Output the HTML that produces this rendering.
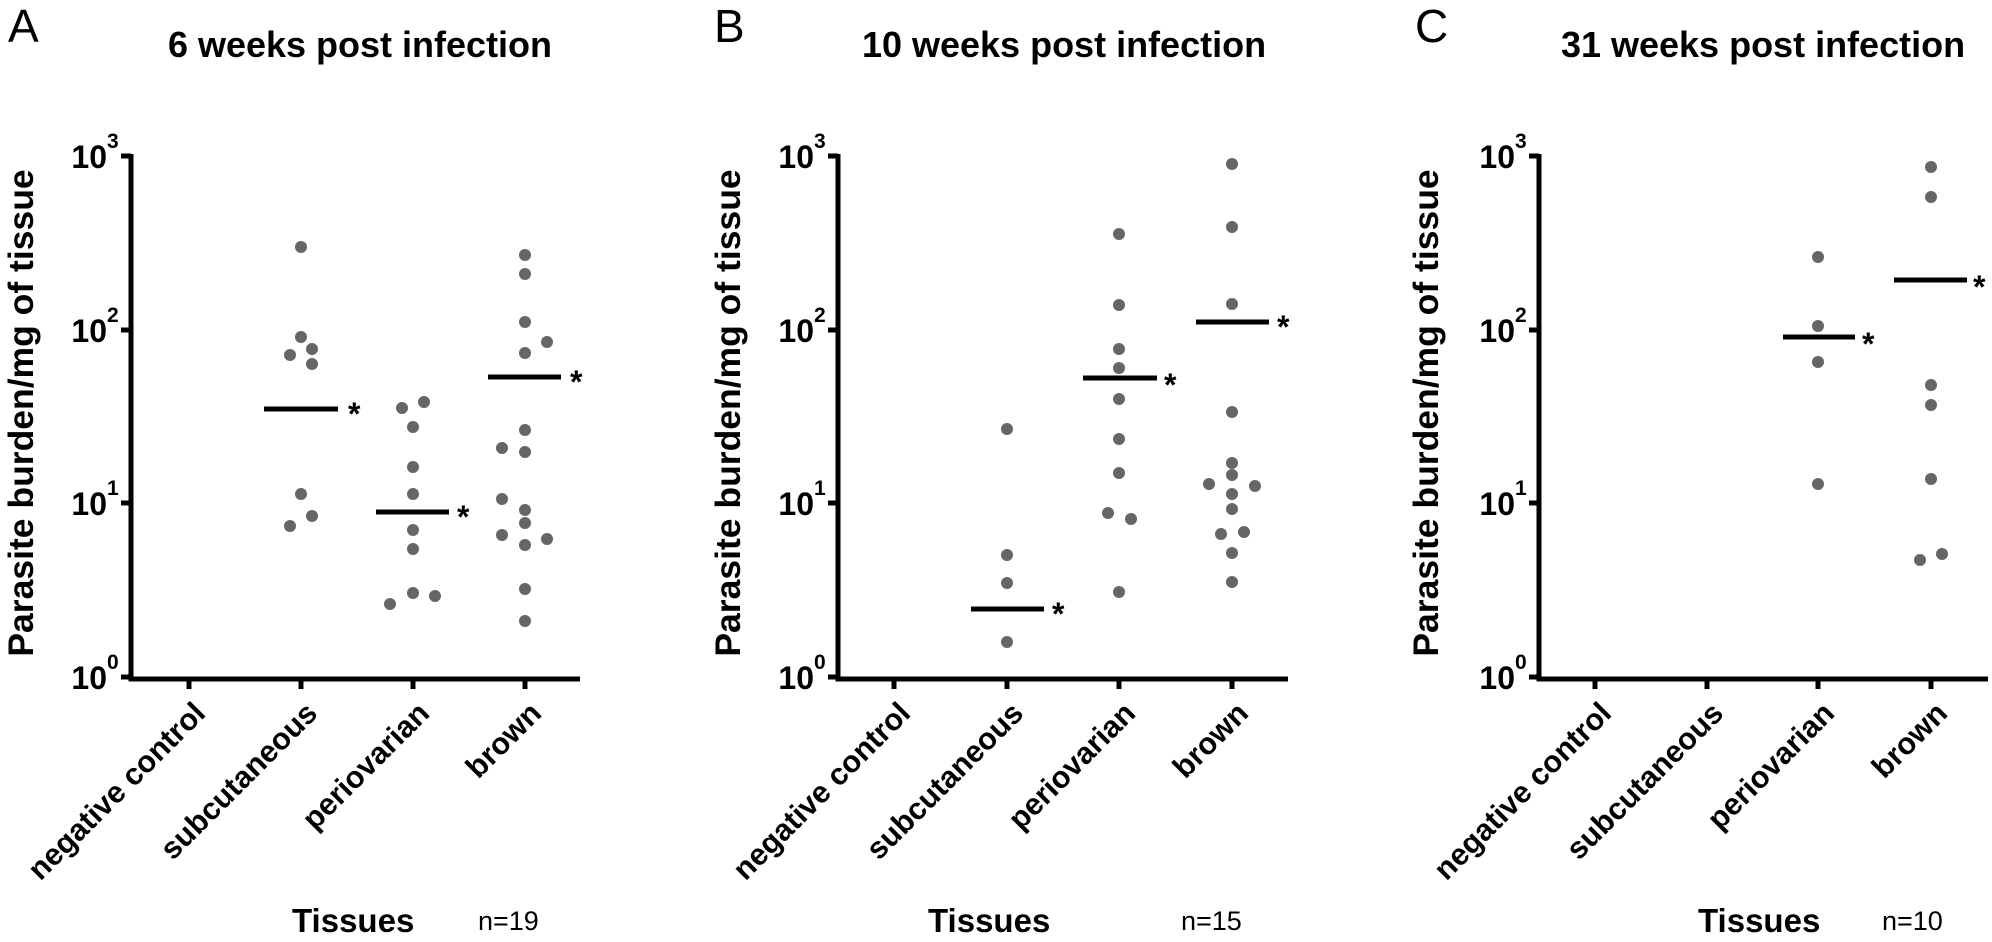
<!DOCTYPE html>
<html><head><meta charset="utf-8"><style>
html,body{margin:0;padding:0;background:#fff;}
svg{display:block;font-family:"Liberation Sans",Arial,sans-serif;}
.t{font-weight:bold;font-size:36px;text-anchor:middle;}
.yl{font-weight:bold;font-size:35.5px;text-anchor:middle;}
.tk{font-weight:bold;font-size:32px;text-anchor:end;}
.cat{font-weight:bold;font-size:30.5px;text-anchor:end;}
.st{font-weight:bold;font-size:32px;}
.tis{font-weight:bold;font-size:33px;}
.n{font-size:27px;}
.L{font-size:46px;}
circle{fill:#666;}
</style></head><body>
<svg width="1992" height="942" viewBox="0 0 1992 942">
<!-- Panel A -->
<g>
<text class="L" x="8" y="42">A</text>
<text class="t" x="360" y="57">6 weeks post infection</text>
<text class="yl" transform="translate(33,413) rotate(-90)">Parasite burden/mg of tissue</text>
<g stroke="#000" stroke-width="5" fill="none">
<path d="M131 154 V679 H580"/>
<path d="M121 156 H131 M121 330 H131 M121 503 H131 M121 677 H131"/>
<path d="M189 677 V689 M301 677 V689 M413 677 V689 M525 677 V689"/>
<path d="M264 409 H338 M376 512 H449 M488 377 H561"/>
</g>
<g>
<text class="tk" x="107" y="168">10</text><text x="107" y="148" font-weight="bold" font-size="21">3</text>
<text class="tk" x="107" y="342">10</text><text x="107" y="322" font-weight="bold" font-size="21">2</text>
<text class="tk" x="107" y="515">10</text><text x="107" y="495" font-weight="bold" font-size="21">1</text>
<text class="tk" x="107" y="689">10</text><text x="107" y="669" font-weight="bold" font-size="21">0</text>
</g>
<text class="st" x="348" y="425">*</text>
<text class="st" x="457" y="528">*</text>
<text class="st" x="570" y="393">*</text>
<circle cx="301" cy="247" r="6"/><circle cx="301" cy="337" r="6"/><circle cx="290" cy="355" r="6"/><circle cx="312" cy="349" r="6"/><circle cx="312" cy="364" r="6"/><circle cx="301" cy="494" r="6"/><circle cx="312" cy="516" r="6"/><circle cx="290" cy="526" r="6"/>
<circle cx="402" cy="408" r="6"/><circle cx="424" cy="402" r="6"/><circle cx="413" cy="427" r="6"/><circle cx="413" cy="467" r="6"/><circle cx="413" cy="494" r="6"/><circle cx="413" cy="530" r="6"/><circle cx="413" cy="549" r="6"/><circle cx="413" cy="593" r="6"/><circle cx="435" cy="596" r="6"/><circle cx="390" cy="604" r="6"/>
<circle cx="525" cy="255" r="6"/><circle cx="525" cy="274" r="6"/><circle cx="525" cy="322" r="6"/><circle cx="547" cy="342" r="6"/><circle cx="525" cy="353" r="6"/><circle cx="525" cy="430" r="6"/><circle cx="502" cy="448" r="6"/><circle cx="525" cy="452" r="6"/><circle cx="502" cy="499" r="6"/><circle cx="525" cy="510" r="6"/><circle cx="525" cy="523" r="6"/><circle cx="502" cy="535" r="6"/><circle cx="547" cy="539" r="6"/><circle cx="525" cy="545" r="6"/><circle cx="525" cy="589" r="6"/><circle cx="525" cy="621" r="6"/>
<text class="cat" transform="translate(207,715) rotate(-45)">negative control</text>
<text class="cat" transform="translate(319,715) rotate(-45)">subcutaneous</text>
<text class="cat" transform="translate(431,715) rotate(-45)">periovarian</text>
<text class="cat" transform="translate(543,715) rotate(-45)">brown</text>
<text class="tis" x="292" y="932">Tissues</text>
<text class="n" x="478" y="930">n=19</text>
</g>
<!-- Panel B -->
<g>
<text class="L" x="714" y="42">B</text>
<text class="t" x="1064" y="57">10 weeks post infection</text>
<text class="yl" transform="translate(740,413) rotate(-90)">Parasite burden/mg of tissue</text>
<g stroke="#000" stroke-width="5" fill="none">
<path d="M838 154 V679 H1288"/>
<path d="M828 156 H838 M828 330 H838 M828 503 H838 M828 677 H838"/>
<path d="M894 677 V689 M1007 677 V689 M1119 677 V689 M1232 677 V689"/>
<path d="M971 609 H1044 M1083 378 H1157 M1196 322 H1269"/>
</g>
<g>
<text class="tk" x="814" y="168">10</text><text x="814" y="148" font-weight="bold" font-size="21">3</text>
<text class="tk" x="814" y="342">10</text><text x="814" y="322" font-weight="bold" font-size="21">2</text>
<text class="tk" x="814" y="515">10</text><text x="814" y="495" font-weight="bold" font-size="21">1</text>
<text class="tk" x="814" y="689">10</text><text x="814" y="669" font-weight="bold" font-size="21">0</text>
</g>
<text class="st" x="1052" y="625">*</text>
<text class="st" x="1164" y="396">*</text>
<text class="st" x="1277" y="338">*</text>
<circle cx="1007" cy="429" r="6"/><circle cx="1007" cy="555" r="6"/><circle cx="1007" cy="583" r="6"/><circle cx="1007" cy="642" r="6"/>
<circle cx="1119" cy="234" r="6"/><circle cx="1119" cy="305" r="6"/><circle cx="1119" cy="349" r="6"/><circle cx="1119" cy="368" r="6"/><circle cx="1119" cy="399" r="6"/><circle cx="1119" cy="439" r="6"/><circle cx="1119" cy="473" r="6"/><circle cx="1108" cy="513" r="6"/><circle cx="1131" cy="519" r="6"/><circle cx="1119" cy="592" r="6"/>
<circle cx="1232" cy="164" r="6"/><circle cx="1232" cy="227" r="6"/><circle cx="1232" cy="304" r="6"/><circle cx="1232" cy="412" r="6"/><circle cx="1232" cy="463" r="6"/><circle cx="1232" cy="475" r="6"/><circle cx="1209" cy="484" r="6"/><circle cx="1255" cy="486" r="6"/><circle cx="1232" cy="494" r="6"/><circle cx="1232" cy="509" r="6"/><circle cx="1221" cy="534" r="6"/><circle cx="1244" cy="532" r="6"/><circle cx="1232" cy="553" r="6"/><circle cx="1232" cy="582" r="6"/>
<text class="cat" transform="translate(912,715) rotate(-45)">negative control</text>
<text class="cat" transform="translate(1025,715) rotate(-45)">subcutaneous</text>
<text class="cat" transform="translate(1137,715) rotate(-45)">periovarian</text>
<text class="cat" transform="translate(1250,715) rotate(-45)">brown</text>
<text class="tis" x="928" y="932">Tissues</text>
<text class="n" x="1181" y="930">n=15</text>
</g>
<!-- Panel C -->
<g>
<text class="L" x="1415" y="42">C</text>
<text class="t" x="1763" y="57">31 weeks post infection</text>
<text class="yl" transform="translate(1438,413) rotate(-90)">Parasite burden/mg of tissue</text>
<g stroke="#000" stroke-width="5" fill="none">
<path d="M1539 154 V679 H1988"/>
<path d="M1529 156 H1539 M1529 330 H1539 M1529 503 H1539 M1529 677 H1539"/>
<path d="M1595 677 V689 M1707 677 V689 M1818 677 V689 M1931 677 V689"/>
<path d="M1783 337 H1855 M1894 280 H1967"/>
</g>
<g>
<text class="tk" x="1515" y="168">10</text><text x="1515" y="148" font-weight="bold" font-size="21">3</text>
<text class="tk" x="1515" y="342">10</text><text x="1515" y="322" font-weight="bold" font-size="21">2</text>
<text class="tk" x="1515" y="515">10</text><text x="1515" y="495" font-weight="bold" font-size="21">1</text>
<text class="tk" x="1515" y="689">10</text><text x="1515" y="669" font-weight="bold" font-size="21">0</text>
</g>
<text class="st" x="1862" y="355">*</text>
<text class="st" x="1973" y="298">*</text>
<circle cx="1818" cy="257" r="6"/><circle cx="1818" cy="326" r="6"/><circle cx="1818" cy="362" r="6"/><circle cx="1818" cy="484" r="6"/>
<circle cx="1931" cy="167" r="6"/><circle cx="1931" cy="197" r="6"/><circle cx="1931" cy="385" r="6"/><circle cx="1931" cy="405" r="6"/><circle cx="1931" cy="479" r="6"/><circle cx="1920" cy="560" r="6"/><circle cx="1942" cy="554" r="6"/>
<text class="cat" transform="translate(1613,715) rotate(-45)">negative control</text>
<text class="cat" transform="translate(1725,715) rotate(-45)">subcutaneous</text>
<text class="cat" transform="translate(1836,715) rotate(-45)">periovarian</text>
<text class="cat" transform="translate(1949,715) rotate(-45)">brown</text>
<text class="tis" x="1698" y="932">Tissues</text>
<text class="n" x="1882" y="930">n=10</text>
</g>
</svg>
</body></html>
